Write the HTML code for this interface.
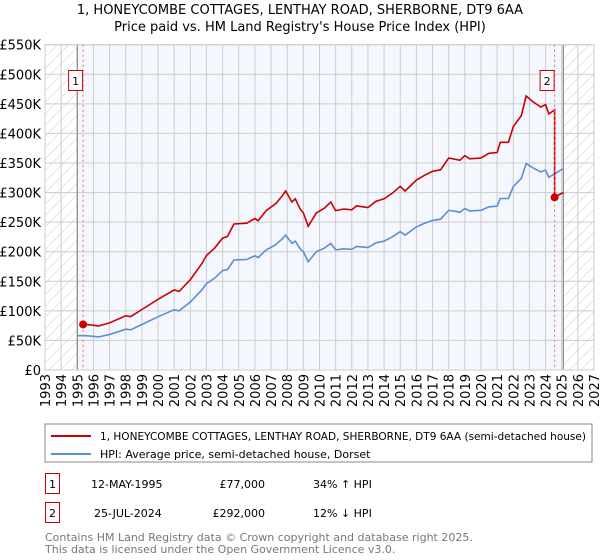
<!DOCTYPE html>
<html><head><meta charset="utf-8"><style>
body{margin:0;background:#fff;font-family:"DejaVu Sans","Liberation Sans",sans-serif;}
#wrap{position:relative;width:600px;height:560px;overflow:hidden;}
</style></head><body><div id="wrap">
<svg id="svg" width="600" height="560" xmlns="http://www.w3.org/2000/svg" style="position:absolute;left:0;top:0;font-family:'DejaVu Sans','Liberation Sans',sans-serif;">
<defs><pattern id="hatch" width="8" height="8" patternUnits="userSpaceOnUse" patternTransform="rotate(45)"><line x1="0" y1="0" x2="0" y2="8" stroke="#ccc" stroke-width="1"/></pattern></defs>
<text x="300" y="14" text-anchor="middle" font-size="13">1, HONEYCOMBE COTTAGES, LENTHAY ROAD, SHERBORNE, DT9 6AA</text>
<text x="300" y="31" text-anchor="middle" font-size="13">Price paid vs. HM Land Registry's House Price Index (HPI)</text>
<g id="plot"></g>
<rect x="45" y="424" width="547" height="38" fill="#fff" stroke="#888"/>
<line x1="51" y1="436" x2="91" y2="436" stroke="#cc0000" stroke-width="2"/>
<text x="100" y="440" font-size="11" textLength="486" lengthAdjust="spacingAndGlyphs">1, HONEYCOMBE COTTAGES, LENTHAY ROAD, SHERBORNE, DT9 6AA (semi-detached house)</text>
<line x1="51" y1="454" x2="91" y2="454" stroke="#5b8fd4" stroke-width="2"/>
<text x="100" y="458" font-size="11">HPI: Average price, semi-detached house, Dorset</text>
<g>
<rect x="45.5" y="473.5" width="14" height="20" fill="#fff" stroke="#cc0000"/>
<text x="52.5" y="488" text-anchor="middle" font-size="11">1</text>
<text x="91" y="488" font-size="11">12-MAY-1995</text>
<text x="265" y="488" text-anchor="end" font-size="11">£77,000</text>
<text x="313" y="488" font-size="11">34% ↑ HPI</text></g>
<g>
<rect x="45.5" y="502.5" width="14" height="20" fill="#fff" stroke="#cc0000"/>
<text x="52.5" y="517" text-anchor="middle" font-size="11">2</text>
<text x="94" y="517" font-size="11">25-JUL-2024</text>
<text x="265" y="517" text-anchor="end" font-size="11">£292,000</text>
<text x="313" y="517" font-size="11">12% ↓ HPI</text></g>
<text x="45" y="541" font-size="11" fill="#777">Contains HM Land Registry data © Crown copyright and database right 2025.</text>
<text x="45" y="553" font-size="11" fill="#777">This data is licensed under the Open Government Licence v3.0.</text>
</svg></div>
<script>
const hpiYears=[1995.0,1995.5,1996.0,1996.3,1997.0,1998.0,1998.3,1999.0,2000.0,2001.0,2001.3,2002.0,2002.7,2003.0,2003.5,2004.0,2004.3,2004.7,2005.5,2006.0,2006.2,2006.7,2007.3,2007.7,2007.9,2008.3,2008.5,2008.8,2009.0,2009.3,2009.8,2010.3,2010.7,2011.0,2011.5,2012.0,2012.3,2013.0,2013.5,2014.0,2014.5,2015.0,2015.3,2016.0,2016.5,2017.0,2017.5,2018.0,2018.7,2019.0,2019.3,2020.0,2020.5,2021.0,2021.2,2021.7,2022.0,2022.5,2022.8,2023.2,2023.7,2024.0,2024.2,2024.6,2025.0,2025.1];
const hpiValues=[58,58,57,56,60,69,68,77,90,102,100,115,135,146,155,168,170,186,187,193,190,203,212,222,228,214,218,205,200,183,200,206,214,203,205,204,209,207,215,218,225,234,228,242,248,253,255,270,267,273,269,270,276,277,290,290,310,324,349,342,335,338,326,332,339,340];
const sales=[{t:1995.36,p:77},{t:2024.56,p:292}];
const yTicks=[0,50,100,150,200,250,300,350,400,450,500,550];
const yLabels=["£0","£50K","£100K","£150K","£200K","£250K","£300K","£350K","£400K","£450K","£500K","£550K"];
const xYears=[1993,1994,1995,1996,1997,1998,1999,2000,2001,2002,2003,2004,2005,2006,2007,2008,2009,2010,2011,2012,2013,2014,2015,2016,2017,2018,2019,2020,2021,2022,2023,2024,2025,2026,2027];
const L=45,R=594,T=44.7,B=370,X0=1993,X1=2027,YMAX=550;
const xs=t=>L+(t-X0)/(X1-X0)*(R-L), ys=v=>B-v/YMAX*(B-T);
const NS="http://www.w3.org/2000/svg", g=document.getElementById('plot');
function mk(tag,a,p){const e=document.createElementNS(NS,tag);for(const k in a)e.setAttribute(k,a[k]);(p||g).appendChild(e);return e;}
function hpiAt(t){for(let i=0;i<hpiYears.length-1;i++){if(t<=hpiYears[i+1]){const f=(t-hpiYears[i])/(hpiYears[i+1]-hpiYears[i]);return hpiValues[i]+f*(hpiValues[i+1]-hpiValues[i]);}}return hpiValues[hpiValues.length-1];}
let bg=mk('rect',{x:L,y:T,width:R-L,height:B-T,fill:'#f4f7fd'});


const hL=mk('rect',{x:L,y:T,width:xs(1995)-L,height:B-T,fill:'#fff'});


mk('rect',{x:L,y:T,width:xs(1995)-L,height:B-T,fill:'url(#hatch)'});
const hR=mk('rect',{x:xs(2025.1),y:T,width:R-xs(2025.1),height:B-T,fill:'#fff'});


mk('rect',{x:xs(2025.1),y:T,width:R-xs(2025.1),height:B-T,fill:'url(#hatch)'});
yTicks.forEach((v,i)=>{
 const ln=mk('line',{x1:L,x2:R,y1:ys(v),y2:ys(v),stroke:'#ccc','stroke-width':1});
 
 
 const tx=mk('text',{x:41,y:ys(v)+5,'text-anchor':'end','font-size':13});
 
 
 tx.textContent=yLabels[i];
});
xYears.forEach(yr=>{
 const ln=mk('line',{x1:xs(yr),x2:xs(yr),y1:T,y2:B,stroke:'#ccc','stroke-width':1});
 
 
 const tx=mk('text',{x:0,y:0,'text-anchor':'end','font-size':13,transform:`translate(${xs(yr)+5},${B+4}) rotate(-90)`});
 
 
 tx.textContent=yr;
});
[1995,2025.1].forEach(t=>{const l=mk('line',{x1:xs(t),x2:xs(t),y1:T,y2:B,stroke:'#888','stroke-width':1.2});
 
 });
mk('rect',{x:L,y:T,width:R-L,height:B-T,fill:'none',stroke:'#ccc'});
let d=hpiYears.map((t,i)=>(i?'L':'M')+xs(t).toFixed(1)+','+ys(hpiValues[i]).toFixed(1)).join('');
const hl=mk('path',{d:d,fill:'none',stroke:'#5b8fd4','stroke-width':1.6});


const r1=sales[0].p/hpiAt(sales[0].t), r2=sales[1].p/hpiAt(sales[1].t);
let pts=[[sales[0].t,sales[0].p]];
hpiYears.forEach((t,i)=>{if(t>sales[0].t&&t<sales[1].t)pts.push([t,hpiValues[i]*r1]);});
pts.push([sales[1].t,hpiAt(sales[1].t)*r1]);pts.push([sales[1].t,sales[1].p]);
hpiYears.forEach((t,i)=>{if(t>sales[1].t)pts.push([t,hpiValues[i]*r2]);});
d=pts.map((p,i)=>(i?'L':'M')+xs(p[0]).toFixed(1)+','+ys(p[1]).toFixed(1)).join('');
const pl=mk('path',{d:d,fill:'none',stroke:'#cc0000','stroke-width':1.6});


sales.forEach((s,i)=>{
 const vl=mk('line',{x1:xs(s.t),x2:xs(s.t),y1:T,y2:B,stroke:'#ff6666','stroke-width':1,'stroke-dasharray':'2,3'});
 
 
 const c=mk('circle',{cx:xs(s.t),cy:ys(s.p),r:4,fill:'#cc0000'});
 
 
 const bx=mk('rect',{x:xs(s.t)-14.5,y:70.5,width:14,height:20,fill:'#fff',stroke:'#cc0000'});
 
 
 const tx=mk('text',{x:xs(s.t)-7.5,y:85,'text-anchor':'middle','font-size':11});
 
 
 tx.textContent=String(i+1);
});
</script></body></html>
